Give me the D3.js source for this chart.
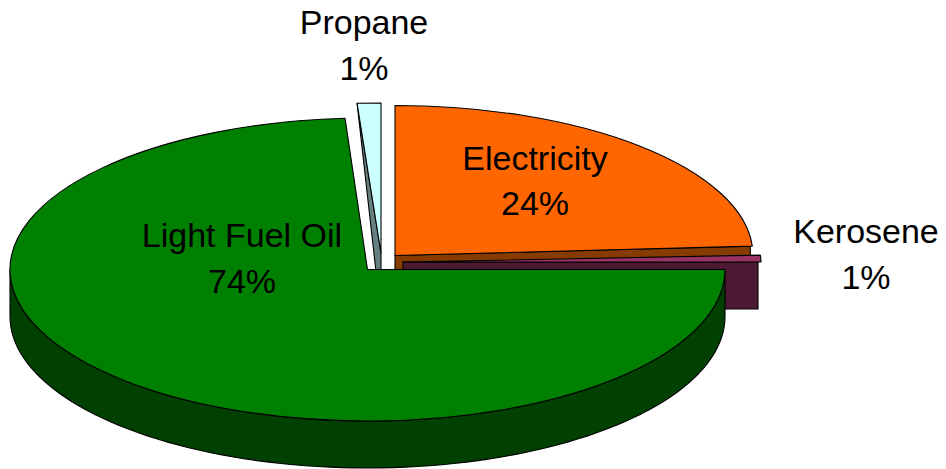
<!DOCTYPE html>
<html><head><meta charset="utf-8">
<script src="https://cdnjs.cloudflare.com/ajax/libs/d3/7.8.5/d3.min.js"></script>
<style>html,body{margin:0;background:#fff}svg{display:block}text{font-family:"Liberation Sans",Arial,sans-serif;font-size:34px;fill:#000;text-anchor:middle}</style>
</head><body><svg id="c" width="946" height="469"></svg>
<script>
const categories = ["Electricity","Kerosene","Light Fuel Oil","Propane"];
const shareValues = [24,1,74,1];
const topColors = ["#ff6600","#993366","#008000","#ccffff"];
const sideColors = ["#863c00","#4c1933","#004000","#668080"];

const rxs=[358,358,357.5,381], rys=[150,110,151.5,150], depths=[47,47,47,63];
const centers=[[395,255.5],[403,262],[367.5,269.5],[381,253]];
const labelPos=[[535,169.5],[866,243],[242,247],[364,34]];
const svg=d3.select("#c");
const arcs=d3.pie().sort(null).value(d=>d)(shareValues);
const arcGen=d3.arc().innerRadius(0).outerRadius((d,i)=>rxs[i]);
const line=d3.line();
const rim=(i,a,dy=0,inset=0)=>[centers[i][0]+(rxs[i]-inset)*Math.sin(a),centers[i][1]-rys[i]*Math.cos(a)+dy];
const poly=(pts,fill)=>svg.append("path").attr("d",line(pts)+"Z").attr("fill",fill).attr("stroke","#000").attr("stroke-width",1.1).attr("stroke-linejoin","round");
const topFace=i=>svg.append("path")
  .attr("transform",`translate(${centers[i]}) scale(1,${rys[i]/rxs[i]})`)
  .attr("d",arcGen(arcs[i],i)).attr("fill",topColors[i])
  .attr("stroke","#000").attr("stroke-width",1.1).attr("stroke-linejoin","round")
  .attr("vector-effect","non-scaling-stroke");

// Electricity: cut face at end angle, then top
{const i=0,a=arcs[i].endAngle,c=centers[i];
 poly([c,rim(i,a,0,2),rim(i,a,depths[i],2),[c[0],c[1]+depths[i]]],sideColors[i]); topFace(i);}
// Kerosene: cut face at end angle, then top
{const i=1,a=arcs[i].endAngle,c=centers[i];
 poly([c,rim(i,a,0,3),rim(i,a,depths[i],3),[c[0],c[1]+depths[i]]],sideColors[i]); topFace(i);}
// Propane: cut face at start angle, then top
{const i=3,a=arcs[i].startAngle,c=centers[i];
 poly([rim(i,a),c,[c[0],c[1]+depths[i]]],sideColors[i]); topFace(i);}
// Light Fuel Oil: outer wall, then top
{const i=2;
 const ang=d3.range(Math.PI/2,1.5*Math.PI+0.001,Math.PI/90);
 poly(ang.map(a=>rim(i,a)).concat(ang.slice().reverse().map(a=>rim(i,a,depths[i]))),sideColors[i]); topFace(i);}

categories.forEach((n,i)=>{
  svg.append("text").attr("x",labelPos[i][0]).attr("y",labelPos[i][1]).text(n);
  svg.append("text").attr("x",labelPos[i][0]).attr("y",labelPos[i][1]+45.5).text(shareValues[i]+"%");
});
</script></body></html>
